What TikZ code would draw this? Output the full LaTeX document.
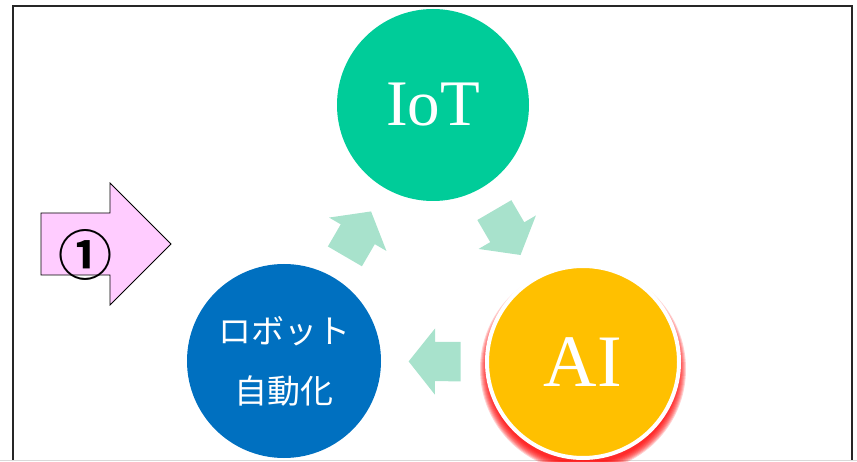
\documentclass[tikz,border=0pt]{standalone}
\usepackage{fontspec}
\setmainfont{Liberation Serif}
\newfontfamily\cjk{Noto Sans CJK JP}
\newfontfamily\cjkbold{Noto Sans CJK JP Bold}
\usetikzlibrary{shapes.arrows}

\definecolor{iotgreen}{RGB}{0,204,153}
\definecolor{robotblue}{RGB}{0,112,192}
\definecolor{aiyellow}{RGB}{255,192,0}
\definecolor{flowgreen}{RGB}{168,226,204}
\definecolor{markpink}{RGB}{255,204,255}

\tikzset{
  topic/.style={circle, minimum size=192pt, inner sep=0pt, text=white},
  flow arrow/.style={single arrow, fill=flowgreen, draw=none, inner xsep=0pt, inner ysep=19.5pt,
    minimum height=52pt, single arrow head extend=13.5pt, single arrow tip angle=103,
    sloped, allow upside down, pos=0.47},
}

\begin{document}
\begin{tikzpicture}[x=1pt,y=1pt]
    \useasboundingbox (0,0) rectangle (857,461);

    % Frame
    \draw[line width=1.5pt, black!85] (13,0) -- (13,455) -- (852,455) -- (852,0);
    \draw[black!15] (0,0.5) -- (857,0.5);

    % Step marker
    \draw[fill=markpink, line width=0.8pt] (41,186) -- (110,186) -- (110,156) -- (171,217)
        -- (110,278) -- (110,248) -- (41,248) -- cycle;
    \node (step1) at (85,206) {\cjkbold\fontsize{54}{54}\selectfont ①};

    % Glow under AI
    \coordinate (aic) at (583,99);
    \foreach \r in {1,...,9}
        \fill[red, opacity=0.18] ([yshift=-7pt]aic) circle ({94+\r});

    % The three topics
    \node[topic, fill=iotgreen, font=\fontsize{65}{65}\selectfont] (iot) at (433,356) {IoT};
    \node[topic, fill=robotblue, minimum size=194pt, align=center,
        font=\cjk\fontsize{33}{60}\selectfont] (robot) at (284,100) {ロボット\\自動化};
    \node[topic, fill=aiyellow, draw=white, line width=4pt,
        font=\fontsize{74}{74}\selectfont] (ai) at (aic) {AI};

    % Cycle arrows
    \path (robot.center) -- (iot.center) node[flow arrow] (flow1) {};
    \path (iot.center) -- (ai.center) node[flow arrow] (flow2) {};
    \path (ai.center) -- (robot.center) node[flow arrow] (flow3) {};
\end{tikzpicture}
\end{document}
